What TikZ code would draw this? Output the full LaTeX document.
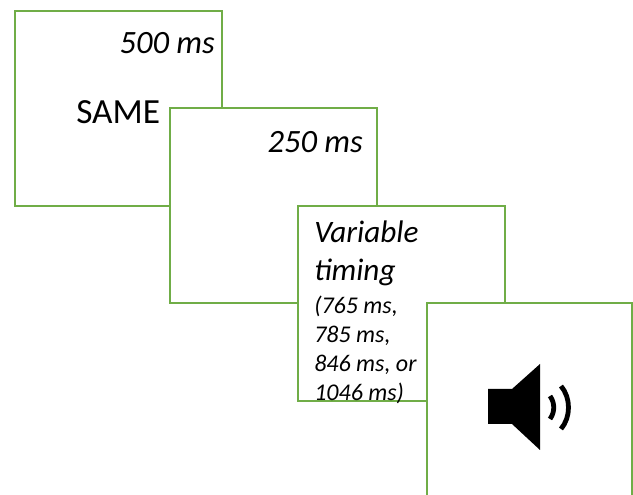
\documentclass[tikz,border=0pt]{standalone}
\usepackage{fontspec}
\setmainfont{Carlito}
\definecolor{cardgreen}{HTML}{70AD47}
\tikzset{
 card/.style={draw=cardgreen,line width=1.5pt,fill=white,minimum width=#1,minimum height=195*0.75pt,anchor=north west,inner sep=0pt,outer sep=0pt},
 label/.style={inner sep=0pt,align=left,text=black}}
\begin{document}
\begin{tikzpicture}[x=0.75pt,y=-0.75pt]
\useasboundingbox (0,0) rectangle (633,495);
\node[card=207*0.75pt] (a) at (15,11) {};
\node[label,font=\fontsize{24.4pt}{29pt}\selectfont\itshape,anchor=north east] (at) at (215,32) {500 ms};
\node[label,font=\fontsize{26.5pt}{32pt}\selectfont,anchor=north west] (as) at (76,100) {SAME};
\node[card=207*0.75pt] (b) at (170,108) {};
\node[label,font=\fontsize{24.4pt}{29pt}\selectfont\itshape,anchor=north east] (bt) at (363,131) {250 ms};
\node[card=207*0.75pt] (c) at (298,206) {};
\node[label,font=\fontsize{23.4pt}{28.5pt}\selectfont\itshape,anchor=north west] (ct) at (314,221) {Variable\\timing};
\node[label,font=\fontsize{18pt}{21.8pt}\selectfont\itshape,anchor=north west] (cd) at (314,296) {(765 ms,\\785 ms,\\846 ms, or\\1046 ms)};
\node[card=205*0.75pt,minimum height=200*0.75pt] (d) at (427,303) {};
\fill[black] (488,389) -- (512,389) -- (540,364) -- (540,450) -- (512,424) -- (488,424) -- cycle;
\draw[black,line width=3.6pt] (550,396) .. controls (555,403) and (555,412) .. (550,419);
\draw[black,line width=3.6pt] (561,386) .. controls (571,398) and (571,417) .. (561,429);
\end{tikzpicture}
\end{document}
